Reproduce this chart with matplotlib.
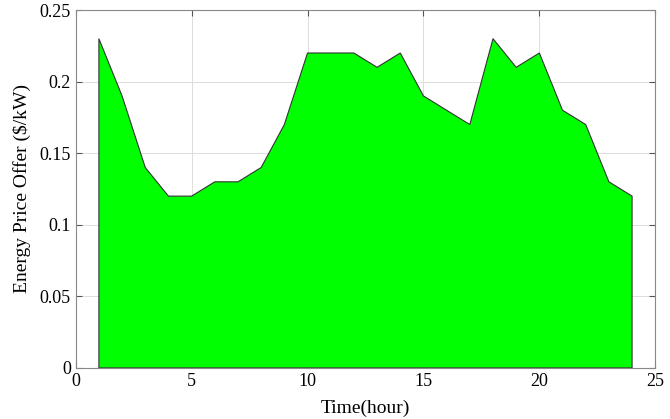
import numpy as np
import matplotlib
matplotlib.use("Agg")
import matplotlib.pyplot as plt

# Data
hours = [1, 2, 3, 4, 5, 6, 7, 8, 9, 10, 11, 12, 13, 14, 15, 16, 17, 18, 19, 20, 21, 22, 23, 24]
price = [0.23, 0.19, 0.14, 0.12, 0.12, 0.13, 0.13, 0.14, 0.17, 0.22, 0.22, 0.22,
         0.21, 0.22, 0.19, 0.18, 0.17, 0.23, 0.21, 0.22, 0.18, 0.17, 0.13, 0.12]

plt.rcParams['font.family'] = ['Liberation Serif', 'DejaVu Serif']

fig = plt.figure(figsize=(6.70, 4.19), dpi=100)
ax = fig.add_axes([0.113, 0.122, 0.865, 0.854])

x = np.array(hours)
y = np.array(price)
xs = np.concatenate([[x[0]], x, [x[-1]]])
ys = np.concatenate([[0], y, [0]])
ax.fill(xs, ys, facecolor='#00ff00', edgecolor='#333333', linewidth=0.8, zorder=2)

ax.set_xlim(0, 25)
ax.set_ylim(0, 0.25)
ax.set_xticks([0, 5, 10, 15, 20, 25])
ax.set_yticks([0, 0.05, 0.1, 0.15, 0.2, 0.25])
ax.set_yticklabels(['0', '0.05', '0.1', '0.15', '0.2', '0.25'])
ax.grid(True, color='#dddddd', linewidth=0.7, zorder=0)
ax.set_axisbelow(True)
ax.tick_params(direction='in', top=True, right=True, labelsize=13, color='#555555', length=4)
for s in ax.spines.values():
    s.set_color('#888888')
    s.set_linewidth(0.8)

ax.set_xlabel('Time(hour)', fontsize=14, labelpad=7)
ax.set_ylabel('Energy Price Offer ($/kW)', fontsize=14, labelpad=6)

plt.savefig('out.png', dpi=100)
